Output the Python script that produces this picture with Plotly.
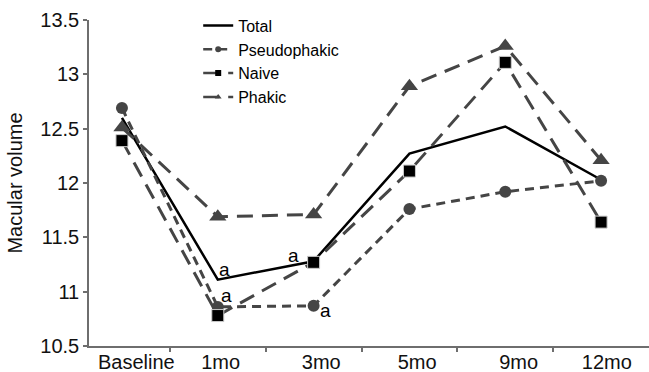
import plotly.graph_objects as go

categories = ["Baseline", "1mo", "3mo", "5mo", "9mo", "12mo"]
total = [12.60, 11.11, 11.28, 12.27, 12.52, 12.03]
pseudophakic = [12.69, 10.86, 10.87, 11.76, 11.92, 12.02]
naive = [12.39, 10.78, 11.27, 12.11, 13.11, 11.64]
phakic = [12.51, 11.69, 11.71, 12.89, 13.26, 12.21]
y_ticks = [10.5, 11, 11.5, 12, 12.5, 13, 13.5]
y_tick_labels = ["10.5", "11", "11.5", "12", "12.5", "13", "13.5"]

xi = list(range(len(categories)))
GRAY = "#454545"
FONT = "Liberation Sans, Arial, sans-serif"

series = [
    ("Total", total, dict(color="#000000", width=2.5), None),
    ("Pseudophakic", pseudophakic, dict(color=GRAY, width=3, dash="9px,6px"),
     dict(symbol="circle", size=12, color=GRAY)),
    ("Naive", naive, dict(color=GRAY, width=3, dash="16px,9px"),
     dict(symbol="square", size=12, color="#000000", line=dict(color="#cccccc", width=1))),
    ("Phakic", phakic, dict(color=GRAY, width=3, dash="16px,9px"),
     dict(symbol="triangle-up", size=15, color=GRAY)),
]

fig = go.Figure()
for name, vals, line, marker in series:
    fig.add_trace(go.Scatter(x=xi, y=vals, name=name,
                             mode="lines" if marker is None else "lines+markers",
                             line=line, marker=marker, showlegend=False))
# legend-only entries with small markers, as in the original legend
for name, vals, line, marker in series:
    small = None
    if marker is not None:
        small = dict(marker)
        small["size"] = 6
        small.pop("line", None)
    fig.add_trace(go.Scatter(x=[None], y=[None], name=name,
                             mode="lines" if marker is None else "lines+markers",
                             line=dict(line, width=2.5), marker=small, showlegend=True))
# invisible trace on xaxis2 for tick marks between categories
fig.add_trace(go.Scatter(x=[0.5], y=[None], xaxis="x2", showlegend=False,
                         hoverinfo="skip", mode="markers"))

# "a" annotations anchored to data points
ann = [(1, total[1], 7, 10), (1, pseudophakic[1], 9, 11),
       (2, total[2], -20, 6), (2, pseudophakic[2], 12, -5)]
for x, y, dx, dy in ann:
    fig.add_annotation(x=x, y=y, text="a", showarrow=False, xshift=dx, yshift=dy,
                       font=dict(size=19, color="#000000", family=FONT))

label_shift = [0.15, 0.03, 0.08, 0.08, 0.14, 0.06]
XR = [-0.344, 5.5]
fig.update_layout(
    width=649, height=372,
    margin=dict(l=89, r=0, t=20, b=26),
    paper_bgcolor="white", plot_bgcolor="white",
    font=dict(family=FONT, size=20, color="#111111"),
    showlegend=True,
    legend=dict(x=0.195, y=1.035, xanchor="left", yanchor="top",
                font=dict(size=16, color="#000000", family=FONT),
                bgcolor="rgba(0,0,0,0)", itemsizing="trace", tracegroupgap=0),
    xaxis=dict(range=XR, showgrid=False, zeroline=False, showline=True,
               linecolor="#6e6e6e", linewidth=1.5,
               tickmode="array", tickvals=[i + s for i, s in zip(xi, label_shift)],
               ticktext=categories, ticks="", automargin=False, ticklabelstandoff=-3,
               tickfont=dict(size=20, color="#111111")),
    xaxis2=dict(range=XR, overlaying="x", anchor="y", side="bottom",
                showgrid=False, zeroline=False, showline=False,
                tickmode="array", tickvals=[0.5, 1.5, 2.5, 3.5, 4.5],
                ticktext=[""] * 5, ticks="outside", ticklen=5, tickwidth=1.5,
                tickcolor="#6e6e6e", automargin=False),
    yaxis=dict(range=[10.5, 13.5], showgrid=False, zeroline=False, showline=True,
               linecolor="#6e6e6e", linewidth=1.5,
               tickmode="array", tickvals=y_ticks, ticktext=y_tick_labels,
               ticks="outside", ticklen=4, tickwidth=1.5, tickcolor="#6e6e6e",
               automargin=False, tickfont=dict(size=20, color="#111111"),
               title=dict(text="Macular volume", standoff=12,
                          font=dict(size=20, color="#111111"))),
)

fig.write_html("out.html", config={"displayModeBar": False},
               post_script="document.body.style.margin='0';document.body.style.overflow='hidden';")
